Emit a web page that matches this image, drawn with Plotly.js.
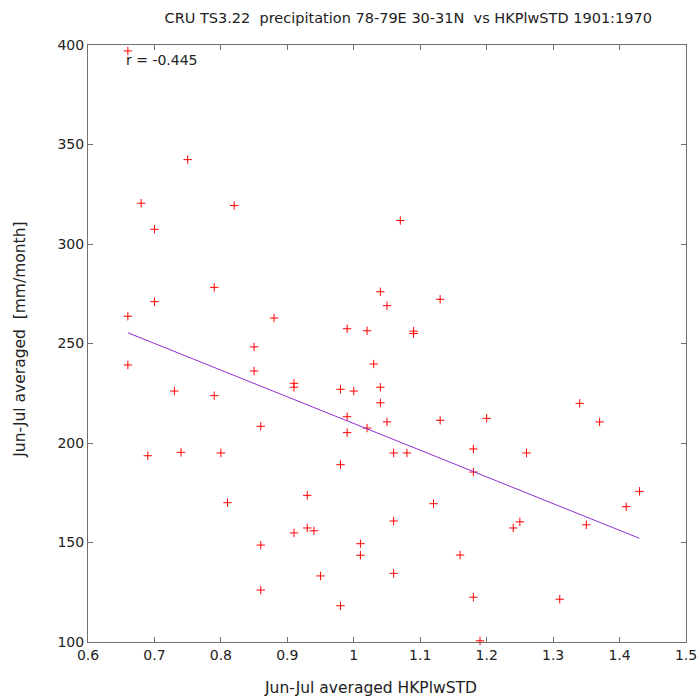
<!DOCTYPE html>
<html>
<head>
<meta charset="utf-8">
<script src="https://cdn.plot.ly/plotly-3.0.1.min.js"></script>
<style>html,body{margin:0;padding:0;background:#fff;}#plot{width:699px;height:700px;}</style>
</head>
<body>
<div id="plot"></div>
<script>
const hkpStd = [0.66,0.68,0.75,0.82,0.70,1.07,0.79,0.70,0.66,0.88,1.04,1.05,0.99,1.02,0.85,1.13,1.09,1.09,0.66,0.85,0.91,0.91,0.73,0.79,0.98,1.00,1.03,1.04,1.04,1.05,0.86,0.99,0.99,1.02,0.69,0.74,0.80,1.06,0.98,0.81,0.93,1.06,0.93,0.94,0.91,0.86,1.01,1.01,0.95,1.06,0.86,0.98,1.34,1.37,1.13,1.20,1.18,1.08,1.26,1.18,1.43,1.41,1.12,1.25,1.24,1.35,1.16,1.18,1.31,1.19];
const precip = [397,320.5,342.4,319.3,307.4,311.8,278.2,271.0,263.7,262.8,276.0,269.0,257.4,256.4,248.3,272.2,256.2,255.0,239.2,236.2,230.0,228.0,226.1,223.8,227.0,226.1,239.7,228.0,220.2,210.6,208.4,213.2,205.2,207.5,193.6,195.3,195.0,195.0,189.1,170.0,173.7,160.8,157.3,155.9,154.8,148.7,149.4,143.6,133.2,134.5,126.1,118.2,219.9,210.6,211.4,212.4,197.0,195.0,195.0,185.4,175.7,168.0,169.5,160.4,157.3,158.9,143.7,122.5,121.5,100.6];
const fitX = [0.66, 1.43];
const fitY = [255.4, 152.1];
const xTicks = [0.6,0.7,0.8,0.9,1,1.1,1.2,1.3,1.4,1.5];
const yTicks = [100,150,200,250,300,350,400];
const corrLabel = "r = -0.445";
const titleText = 'CRU TS3.22  precipitation 78-79E 30-31N  vs HKPlwSTD 1901:1970';
const xTitle = 'Jun-Jul averaged HKPlwSTD';
const yTitle = 'Jun-Jul averaged  [mm/month]';

const traces = [
  {x: hkpStd, y: precip, type: 'scatter', mode: 'markers',
   marker: {symbol: 'cross-thin-open', size: 6, color: '#ff0000', line: {color: '#ff0000', width: 1}},
   showlegend: false, hoverinfo: 'skip', cliponaxis: false},
  {x: fitX, y: fitY, type: 'scatter', mode: 'lines',
   line: {color: '#8f2fd8', width: 1}, showlegend: false, hoverinfo: 'skip'}
];
const axisCommon = {
  showgrid: false, zeroline: false, showline: true, mirror: 'ticks',
  linecolor: '#707070', linewidth: 1, ticks: 'inside', ticklen: 5, tickcolor: '#707070',
  tickfont: {family: 'DejaVu Sans', size: 14, color: '#222'}
};
const txtFont = {family: 'DejaVu Sans', size: 15.5, color: '#222'};
const layout = {
  width: 699, height: 700,
  margin: {l: 88, r: 13, t: 45, b: 58},
  paper_bgcolor: '#fff', plot_bgcolor: '#fff',
  title: {text: titleText,
          font: {family: 'DejaVu Sans', size: 14.5, color: '#222'},
          x: 0.584, xanchor: 'center', y: 0.974, yanchor: 'middle'},
  xaxis: Object.assign({}, axisCommon, {range: [0.6, 1.5], tickvals: xTicks, ticktext: xTicks.map(v => String(v))}),
  yaxis: Object.assign({}, axisCommon, {range: [100, 400], tickvals: yTicks, ticktext: yTicks.map(v => String(v))}),
  annotations: [
    {text: corrLabel, xref: 'paper', yref: 'paper', x: 0.06, y: 0.975, xanchor: 'left', yanchor: 'middle',
     showarrow: false, font: {family: 'DejaVu Sans', size: 14, color: '#222'}},
    {text: xTitle, xref: 'paper', yref: 'paper', x: 0.473, y: -0.077, xanchor: 'center', yanchor: 'middle',
     showarrow: false, font: txtFont},
    {text: yTitle, xref: 'paper', yref: 'paper', x: -0.114, y: 0.506, xanchor: 'center', yanchor: 'middle',
     textangle: -90, showarrow: false, font: txtFont}
  ]
};
Plotly.newPlot('plot', traces, layout, {staticPlot: true, displayModeBar: false});
</script>
</body>
</html>
